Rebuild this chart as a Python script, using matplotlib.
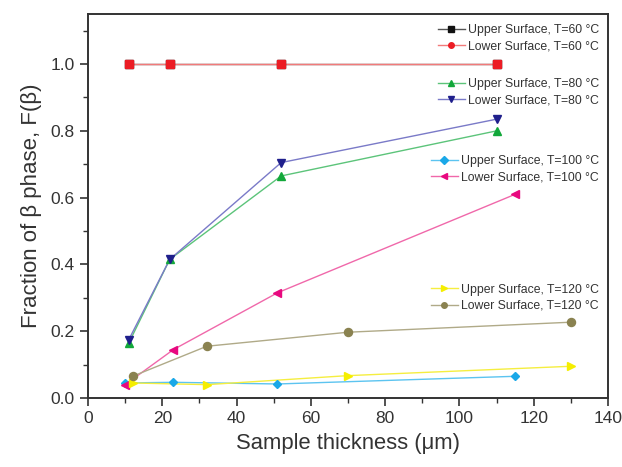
import matplotlib
matplotlib.use('Agg')
import matplotlib.pyplot as plt
from matplotlib.lines import Line2D
from matplotlib.legend import Legend
from matplotlib.ticker import MultipleLocator

plt.rcParams['font.family'] = ['Liberation Sans', 'DejaVu Sans']

# espesores (um) y fraccion de fase beta
x_up60 = [11, 22, 52, 110]
y_up60 = [1.0, 1.0, 1.0, 1.0]
x_lo60 = [11, 22, 52, 110]
y_lo60 = [1.0, 1.0, 1.0, 1.0]

x_up80 = [11, 22, 52, 110]
y_up80 = [0.165, 0.415, 0.665, 0.80]
x_lo80 = [11, 22, 52, 110]
y_lo80 = [0.175, 0.415, 0.705, 0.835]

x_up100 = [10, 23, 51, 115]
y_up100 = [0.045, 0.047, 0.042, 0.065]
x_lo100 = [10, 23, 51, 115]
y_lo100 = [0.040, 0.145, 0.315, 0.61]

x_up120 = [12, 32, 70, 130]
y_up120 = [0.045, 0.040, 0.067, 0.095]
x_lo120 = [12, 32, 70, 130]
y_lo120 = [0.065, 0.155, 0.197, 0.227]

labels = ['Upper Surface, T=60 °C', 'Lower Surface, T=60 °C',
          'Upper Surface, T=80 °C', 'Lower Surface, T=80 °C',
          'Upper Surface, T=100 °C', 'Lower Surface, T=100 °C',
          'Upper Surface, T=120 °C', 'Lower Surface, T=120 °C']

# (x, y, color de marcador, color de linea, marcador, marcador en leyenda)
series = [
    (x_up60, y_up60, '#111111', '#555555', 's', 's'),
    (x_lo60, y_lo60, '#ec1c24', '#f27a7a', 's', 'o'),
    (x_up80, y_up80, '#12a83a', '#5cc47a', '^', '^'),
    (x_lo80, y_lo80, '#1f1f8c', '#7a7ac8', 'v', 'v'),
    (x_up100, y_up100, '#1aa8e8', '#5cc4f0', 'D', 'D'),
    (x_lo100, y_lo100, '#e8087f', '#f068aa', '<', '<'),
    (x_up120, y_up120, '#f5ee00', '#f5ee40', '>', '>'),
    (x_lo120, y_lo120, '#8a8250', '#b0aa88', 'o', 'o'),
]

fig = plt.figure(figsize=(6.22, 4.67), dpi=100)
ax = fig.add_axes([88/622, 69/467, 520/622, 384/467])

handles = []
for xs, ys, mc, lc, mk, lmk in series:
    ax.plot(xs, ys, '-', color=lc, lw=1.0, zorder=2)
    ms = 4.5 if mk == 'D' else 5.8
    ax.plot(xs, ys, ls='none', marker=mk, color=mc, ms=ms, zorder=3)
    handles.append(Line2D([], [], color=lc, lw=1.0, marker=lmk,
                          markerfacecolor=mc, markeredgecolor=mc, ms=4))

ax.set_xlim(0, 140)
ax.set_ylim(0, 1.15)
ax.xaxis.set_major_locator(MultipleLocator(20))
ax.xaxis.set_minor_locator(MultipleLocator(10))
ax.yaxis.set_major_locator(MultipleLocator(0.2))
ax.yaxis.set_minor_locator(MultipleLocator(0.1))
ax.yaxis.set_major_formatter(plt.FormatStrFormatter('%.1f'))
ax.tick_params(which='major', direction='out', length=6, width=1.2,
               labelsize=12.5, colors='#333333')
ax.tick_params(which='minor', direction='out', length=3.5, width=1.0,
               colors='#333333')
for s in ax.spines.values():
    s.set_linewidth(1.4)
    s.set_color('#333333')

ax.set_xlabel('Sample thickness (\u03bcm)', fontsize=15.8, color='#333333', labelpad=5)
ax.set_ylabel('Fraction of \u03b2 phase, F(\u03b2)', fontsize=16, color='#333333', labelpad=6)

# leyendas por pares
tops = [0.995, 0.855, 0.655, 0.32]
for k, top in enumerate(tops):
    leg = Legend(ax, handles[2*k:2*k+2], labels[2*k:2*k+2], loc='upper right',
                 bbox_to_anchor=(1.0, top), frameon=False, fontsize=8.8,
                 handlelength=2.2, handletextpad=0.3, labelspacing=0.35,
                 borderaxespad=0.3, labelcolor='#333333')
    ax.add_artist(leg)

fig.savefig('out.png', dpi=100)
